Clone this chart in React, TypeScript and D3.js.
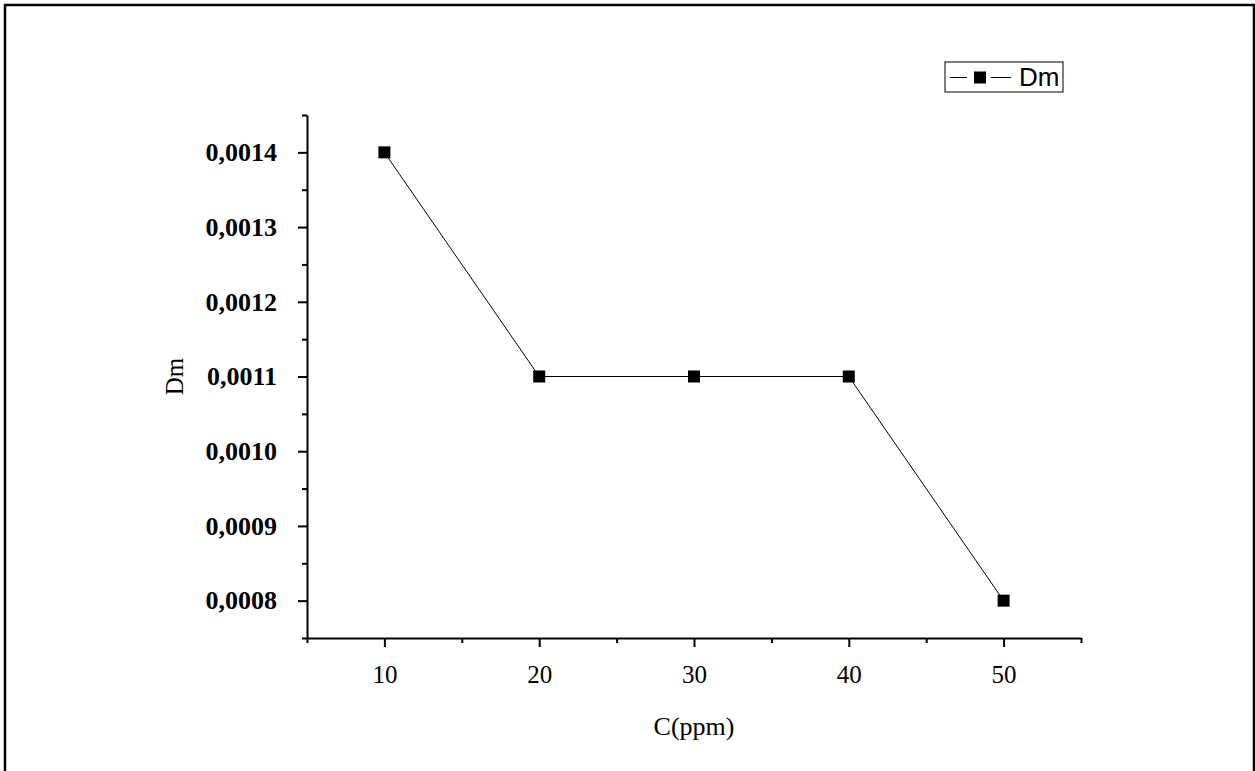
import React, { useEffect, useRef } from 'react';
import * as d3 from 'd3';

const concentrations = [10, 20, 30, 40, 50];
const dmValues = [0.0014, 0.0011, 0.0011, 0.0011, 0.0008];
const xTickValues = [10, 20, 30, 40, 50];
const xMinorTicks = [5, 15, 25, 35, 45, 55];
const yTickValues = [0.0008, 0.0009, 0.001, 0.0011, 0.0012, 0.0013, 0.0014];
const yMinorTicks = [0.00075, 0.00085, 0.00095, 0.00105, 0.00115, 0.00125, 0.00135, 0.00145];
const xLabel = 'C(ppm)';
const yLabel = 'Dm';
const seriesName = 'Dm';

const width = 1255;
const height = 771;
const margin = { left: 307, right: 174, top: 115, bottom: 133 };
const serif = '"Liberation Serif", "Times New Roman", serif';

export default function App() {
  const node = useRef<SVGSVGElement | null>(null);

  useEffect(() => {
    const svg = d3.select(node.current);
    svg.selectAll('*').remove();

    const x = d3.scaleLinear().domain([5, 55]).range([margin.left, width - margin.right]);
    const y = d3.scaleLinear().domain([0.00075, 0.00145]).range([height - margin.bottom, margin.top]);

    // outer frame
    svg.append('rect')
      .attr('x', 5).attr('y', 5)
      .attr('width', 1249).attr('height', 820)
      .attr('fill', 'white')
      .attr('stroke', 'black')
      .attr('stroke-width', 2.5);

    // x axis
    const gx = svg.append('g').attr('transform', `translate(0,${height - margin.bottom})`);
    gx.call(d3.axisBottom(x).tickValues(xMinorTicks).tickSize(5).tickFormat(() => ''));
    gx.call(g => g.select('.domain').remove());
    const gx2 = svg.append('g').attr('transform', `translate(0,${height - margin.bottom})`);
    gx2.call(d3.axisBottom(x).tickValues(xTickValues).tickSize(9).tickPadding(18).tickSizeOuter(0).tickFormat(d3.format('d')));
    gx2.selectAll('text')
      .attr('font-family', serif)
      .attr('font-size', 25)
      .attr('fill', 'black');

    // y axis
    const gy = svg.append('g').attr('transform', `translate(${margin.left},0)`);
    gy.call(d3.axisLeft(y).tickValues(yMinorTicks).tickSize(5).tickFormat(() => ''));
    gy.call(g => g.select('.domain').remove());
    const gy2 = svg.append('g').attr('transform', `translate(${margin.left},0)`);
    gy2.call(d3.axisLeft(y).tickValues(yTickValues).tickSize(9).tickPadding(21).tickSizeOuter(0)
      .tickFormat(d => d3.format('.4f')(d as number).replace('.', ',')));
    gy2.selectAll('text')
      .attr('font-family', serif)
      .attr('font-weight', 'bold')
      .attr('font-size', 26)
      .attr('fill', 'black');
    svg.selectAll('path.domain, .tick line').attr('stroke', 'black').attr('stroke-width', 2);

    // axis titles
    svg.append('text')
      .attr('x', (x(5) + x(55)) / 2)
      .attr('y', 735)
      .attr('text-anchor', 'middle')
      .attr('font-family', serif)
      .attr('font-size', 26)
      .text(xLabel);
    svg.append('text')
      .attr('transform', `translate(183,${(y(0.00075) + y(0.00145)) / 2}) rotate(-90)`)
      .attr('text-anchor', 'middle')
      .attr('font-family', serif)
      .attr('font-size', 25)
      .text(yLabel);

    // series
    const data = concentrations.map((c, i) => ({ c, v: dmValues[i] }));
    const line = d3.line<{ c: number; v: number }>().x(d => x(d.c)).y(d => y(d.v));
    svg.append('path')
      .attr('d', line(data))
      .attr('fill', 'none')
      .attr('stroke', 'black')
      .attr('stroke-width', 1);
    svg.selectAll('rect.pt')
      .data(data)
      .enter().append('rect')
      .attr('class', 'pt')
      .attr('x', d => x(d.c) - 6)
      .attr('y', d => y(d.v) - 6)
      .attr('width', 12)
      .attr('height', 12)
      .attr('fill', 'black');

    // legend
    const lg = svg.append('g');
    lg.append('rect')
      .attr('x', 945).attr('y', 62)
      .attr('width', 118).attr('height', 30)
      .attr('fill', 'white')
      .attr('stroke', 'black')
      .attr('stroke-width', 1);
    lg.append('line').attr('x1', 950).attr('x2', 967).attr('y1', 77.5).attr('y2', 77.5)
      .attr('stroke', 'black').attr('stroke-width', 1);
    lg.append('line').attr('x1', 991).attr('x2', 1011).attr('y1', 77.5).attr('y2', 77.5)
      .attr('stroke', 'black').attr('stroke-width', 1);
    lg.append('rect').attr('x', 974).attr('y', 71.5).attr('width', 12).attr('height', 12).attr('fill', 'black');
    lg.append('text')
      .attr('x', 1019).attr('y', 86)
      .attr('font-family', '"Liberation Sans", Arial, sans-serif')
      .attr('font-size', 26)
      .text(seriesName);
  }, []);

  return (
    <svg ref={node} width={width} height={height}
      style={{ position: 'absolute', left: 0, top: 0, background: 'white' }} />
  );
}
